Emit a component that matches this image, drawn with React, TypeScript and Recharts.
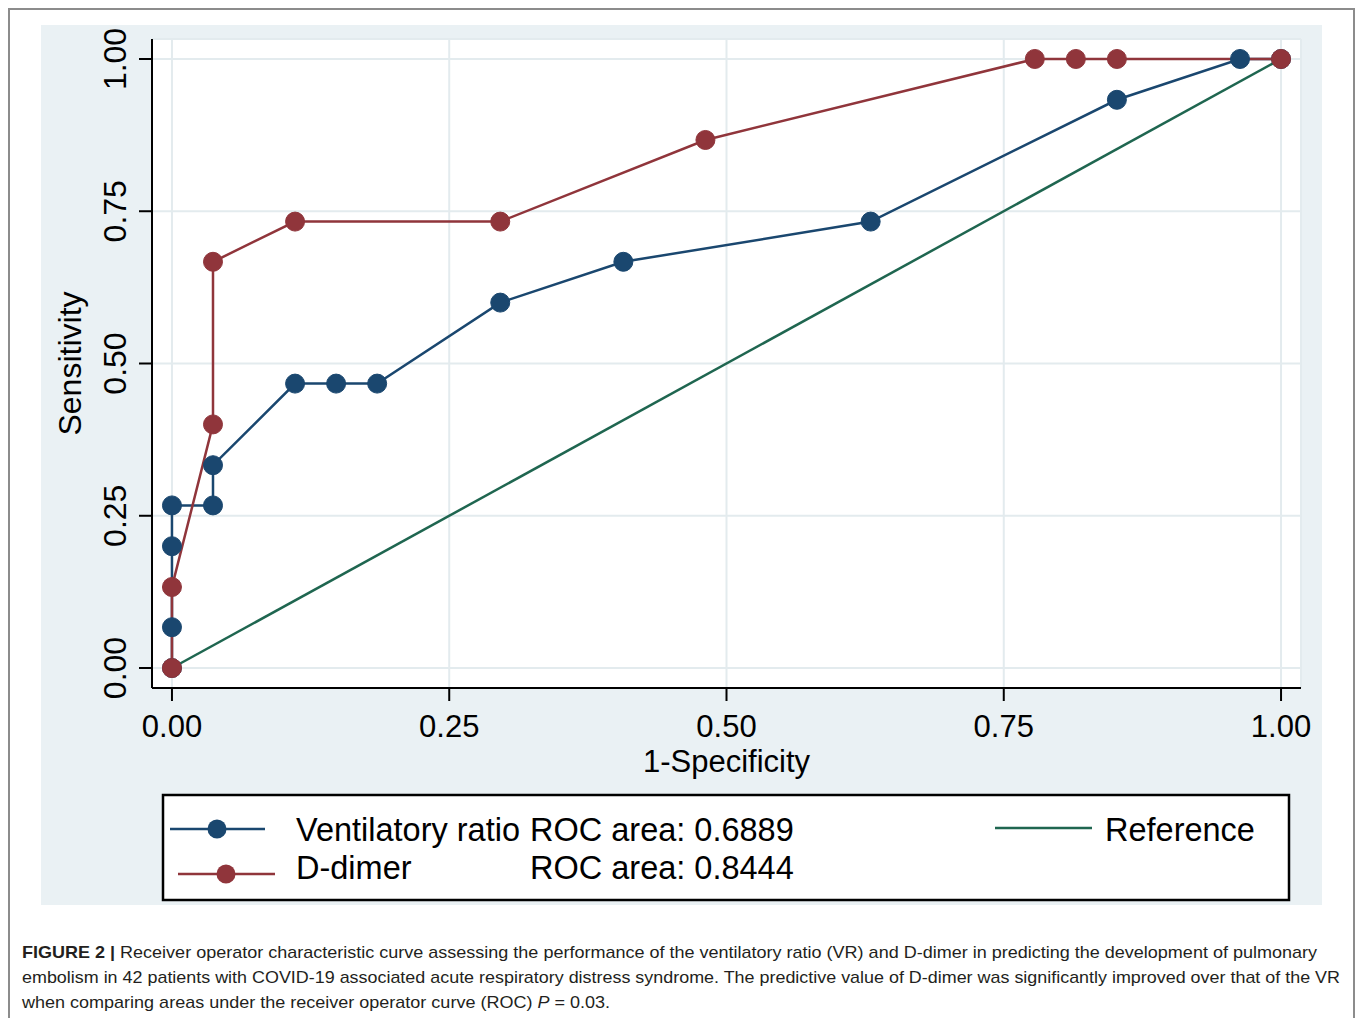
import React from 'react';
import { LineChart, Line, XAxis, YAxis, CartesianGrid } from 'recharts';

// ---- data ----
const vrFpr = [0, 0, 0, 0, 0.037, 0.037, 0.111, 0.148, 0.185, 0.296, 0.407, 0.63, 0.852, 0.963, 1.0];
const vrTpr = [0, 0.067, 0.2, 0.267, 0.267, 0.333, 0.467, 0.467, 0.467, 0.6, 0.667, 0.733, 0.933, 1.0, 1.0];
const ddFpr = [0, 0, 0.037, 0.037, 0.111, 0.296, 0.481, 0.778, 0.815, 0.852, 1.0];
const ddTpr = [0, 0.133, 0.4, 0.667, 0.733, 0.733, 0.867, 1.0, 1.0, 1.0, 1.0];
const refFpr = [0, 1];
const refTpr = [0, 1];
const axisTicks = [0, 0.25, 0.5, 0.75, 1];
const seriesNames = ['Ventilatory ratio', 'D-dimer', 'Reference'];
const rocAreas = ['ROC area: 0.6889', 'ROC area: 0.8444'];
const xTitle = '1-Specificity';
const yTitle = 'Sensitivity';
const captionBold = 'FIGURE 2 | ';
const captionLines = [
  'Receiver operator characteristic curve assessing the performance of the ventilatory ratio (VR) and D-dimer in predicting the development of pulmonary',
  'embolism in 42 patients with COVID-19 associated acute respiratory distress syndrome. The predictive value of D-dimer was significantly improved over that of the VR',
  'when comparing areas under the receiver operator curve (ROC) ',
];
const captionTail = [' = 0.03.'];

const COLORS = ['#1a476f', '#90353b', '#1f6650'];
const FONT = '"Liberation Sans", Arial, Helvetica, sans-serif';

const toPts = (xs: number[], ys: number[]) => xs.map((x, i) => ({ x, y: ys[i] }));
const vrData = toPts(vrFpr, vrTpr);
const ddData = toPts(ddFpr, ddTpr);
const refData = toPts(refFpr, refTpr);

const makeDot = (color: string) => (p: any) => (
  <circle key={`${p.index}-${p.cx}`} cx={p.cx} cy={p.cy} r={9.5} fill={color} stroke={color} strokeWidth={1} />
);

const XTick = (p: any) => (
  <text x={p.x} y={p.y + 34} textAnchor="middle" fontSize={31} fontFamily={FONT} fill="#000">
    {Number(p.payload.value).toFixed(2)}
  </text>
);

const YTick = (p: any) => {
  const cx = p.x - 22;
  return (
    <text
      x={cx}
      y={p.y}
      transform={`rotate(-90, ${cx}, ${p.y})`}
      textAnchor="middle"
      dominantBaseline="central"
      fontSize={32}
      fontFamily={FONT}
      fill="#000"
    >
      {Number(p.payload.value).toFixed(2)}
    </text>
  );
};

export default function App() {
  const W = 1358;
  const H = 1018;
  return (
    <div style={{ position: 'absolute', left: 0, top: 0, width: W, height: H, overflow: 'hidden', background: '#fff' }}>
      <div
        style={{
          position: 'absolute', left: 8, top: 8, width: 1347, height: 1040,
          border: '2px solid #8c8c8c', boxSizing: 'border-box',
        }}
      />
      <div style={{ position: 'absolute', left: 41, top: 25, width: 1281, height: 880, background: '#eaf1f4' }} />
      <div style={{ position: 'absolute', left: 0, top: 0 }}>
        <LineChart width={W} height={H} margin={{ top: 39, right: 57, bottom: 250, left: 52 }}>
          <CartesianGrid fill="#ffffff" stroke="#e3ebee" strokeWidth={2} />
          <XAxis
            dataKey="x"
            type="number"
            domain={[-0.018, 1.018]}
            ticks={axisTicks}
            allowDataOverflow
            height={80}
            axisLine={{ stroke: '#000', strokeWidth: 2 }}
            tickLine={{ stroke: '#000', strokeWidth: 2 }}
            tickSize={13}
            tick={<XTick />}
            label={{
              content: (lp: any) => (
                <text
                  x={lp.viewBox.x + lp.viewBox.width / 2}
                  y={lp.viewBox.y + 84}
                  textAnchor="middle"
                  fontSize={31}
                  fontFamily={FONT}
                  fill="#000"
                >
                  {xTitle}
                </text>
              ),
            }}
          />
          <YAxis
            dataKey="y"
            type="number"
            domain={[-0.0328, 1.0328]}
            ticks={axisTicks}
            allowDataOverflow
            width={100}
            axisLine={{ stroke: '#000', strokeWidth: 2 }}
            tickLine={{ stroke: '#000', strokeWidth: 2 }}
            tickSize={13}
            tick={<YTick />}
            label={{
              content: (lp: any) => {
                const cx = lp.viewBox.x + 18;
                const cy = lp.viewBox.y + lp.viewBox.height / 2;
                return (
                  <text
                    x={cx}
                    y={cy}
                    transform={`rotate(-90, ${cx}, ${cy})`}
                    textAnchor="middle"
                    dominantBaseline="central"
                    fontSize={32}
                    fontFamily={FONT}
                    fill="#000"
                  >
                    {yTitle}
                  </text>
                );
              },
            }}
          />
          <Line
            data={vrData}
            dataKey="y"
            name={seriesNames[0]}
            type="linear"
            stroke={COLORS[0]}
            strokeWidth={2.5}
            dot={makeDot(COLORS[0])}
            activeDot={false}
            isAnimationActive={false}
          />
          <Line
            data={ddData}
            dataKey="y"
            name={seriesNames[1]}
            type="linear"
            stroke={COLORS[1]}
            strokeWidth={2.5}
            dot={makeDot(COLORS[1])}
            activeDot={false}
            isAnimationActive={false}
          />
          <Line
            data={refData}
            dataKey="y"
            name={seriesNames[2]}
            type="linear"
            stroke={COLORS[2]}
            strokeWidth={2.5}
            dot={false}
            activeDot={false}
            isAnimationActive={false}
          />
        </LineChart>
      </div>
      {/* legend */}
      <svg style={{ position: 'absolute', left: 0, top: 0 }} width={W} height={H} pointerEvents="none">
        <rect x={163} y={795} width={1126} height={105} fill="#fff" stroke="#000" strokeWidth={2.5} />
        <line x1={170} y1={829} x2={265} y2={829} stroke={COLORS[0]} strokeWidth={2.5} />
        <circle cx={217} cy={829} r={9.5} fill={COLORS[0]} />
        <text x={296} y={841} fontSize={32.5} fontFamily={FONT} fill="#000">{seriesNames[0]}</text>
        <text x={530} y={841} fontSize={32.5} fontFamily={FONT} fill="#000">{rocAreas[0]}</text>
        <line x1={178} y1={874} x2={275} y2={874} stroke={COLORS[1]} strokeWidth={2.5} />
        <circle cx={226} cy={874} r={9.5} fill={COLORS[1]} />
        <text x={296} y={879} fontSize={32.5} fontFamily={FONT} fill="#000">{seriesNames[1]}</text>
        <text x={530} y={879} fontSize={32.5} fontFamily={FONT} fill="#000">{rocAreas[1]}</text>
        <line x1={995} y1={828} x2={1092} y2={828} stroke={COLORS[2]} strokeWidth={2.5} />
        <text x={1105} y={841} fontSize={32.5} fontFamily={FONT} fill="#000">{seriesNames[2]}</text>
        {/* caption */}
        <text x={22} y={958} fontSize={17} fontFamily={FONT} fill="#231f20" textLength={1295} lengthAdjust="spacingAndGlyphs">
          <tspan fontWeight="bold">{captionBold}</tspan>
          <tspan>{captionLines[0]}</tspan>
        </text>
        <text x={22} y={983} fontSize={17} fontFamily={FONT} fill="#231f20" textLength={1318} lengthAdjust="spacingAndGlyphs">
          {captionLines[1]}
        </text>
        <text x={22} y={1008} fontSize={17} fontFamily={FONT} fill="#231f20" textLength={588} lengthAdjust="spacingAndGlyphs">
          <tspan>{captionLines[2]}</tspan>
          <tspan fontStyle="italic">P</tspan>
          <tspan>{captionTail[0]}</tspan>
        </text>
      </svg>
    </div>
  );
}
